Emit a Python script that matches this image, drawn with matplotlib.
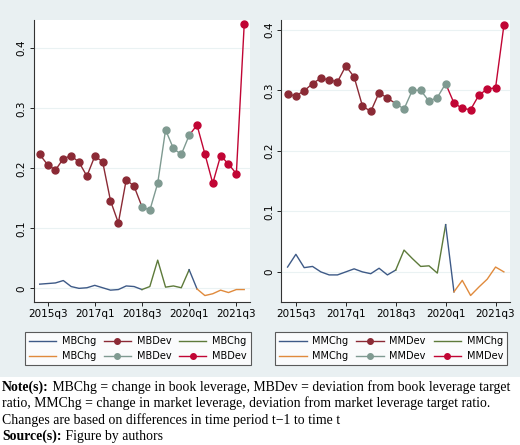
import matplotlib
matplotlib.use("Agg")
import matplotlib.pyplot as plt
from matplotlib.lines import Line2D

quarters = ["2015q2","2015q3","2015q4","2016q1","2016q2","2016q3","2016q4","2017q1","2017q2","2017q3",
            "2017q4","2018q1","2018q2","2018q3","2018q4","2019q1","2019q2","2019q3","2019q4","2020q1",
            "2020q2","2020q3","2020q4","2021q1","2021q2","2021q3","2021q4"]
tick_labels = ["2015q3","2017q1","2018q3","2020q1","2021q3"]

mb_dev = [0.223,0.206,0.197,0.216,0.221,0.210,0.187,0.220,0.211,0.146,0.109,0.181,0.170,
          0.136,0.130,0.175,0.264,0.233,0.223,0.255,
          0.272,0.224,0.175,0.221,0.207,0.191,0.440]
mb_chg = [0.007,0.008,0.009,0.013,0.003,0.000,0.001,0.005,0.001,-0.003,-0.002,0.004,0.003,
          -0.002,0.003,0.047,0.002,0.004,0.001,0.031,
          -0.001,-0.012,-0.009,-0.003,-0.007,-0.002,-0.002]
mm_dev = [0.293,0.291,0.299,0.311,0.320,0.317,0.314,0.340,0.322,0.274,0.265,0.296,0.287,
          0.278,0.269,0.300,0.300,0.282,0.288,0.311,
          0.279,0.270,0.268,0.292,0.302,0.304,0.407]
mm_chg = [0.008,0.029,0.007,0.009,0.000,-0.005,-0.005,0.000,0.005,0.000,-0.003,0.006,-0.005,
          0.003,0.036,0.022,0.009,0.010,-0.002,0.078,
          -0.033,-0.014,-0.039,-0.025,-0.012,0.008,0.000]

BLUE, MAROON, GREEN = "#3e5a87", "#8b2a35", "#5d7a3a"
ORANGE, GRAY, RED = "#e08a3c", "#7f9a91", "#c10534"
BG = "#e9f0f2"

fig = plt.figure(figsize=(5.2, 4.45), dpi=100)
bg = fig.add_axes([0, 68/445, 1, 1 - 68/445], zorder=-10)
bg.set_facecolor(BG)
bg.set_xticks([]); bg.set_yticks([])
for s in bg.spines.values():
    s.set_visible(False)

def panel(rect, dev, chg, ylim, name_chg, name_dev):
    ax = fig.add_axes(rect)
    ax.set_facecolor("white")
    x = list(range(len(quarters)))
    ax.plot(x[0:14], chg[0:14], color=BLUE, lw=1.0)
    ax.plot(x[13:20], chg[13:20], color=GREEN, lw=1.0)
    ax.plot(x[19:21], chg[19:21], color=BLUE, lw=1.0)
    ax.plot(x[20:27], chg[20:27], color=ORANGE, lw=1.0)
    ax.plot(x[0:14], dev[0:14], color=MAROON, lw=1.0)
    ax.plot(x[13:20], dev[13:20], color=GRAY, lw=1.0)
    ax.plot(x[19:27], dev[19:27], color=RED, lw=1.0)
    ax.plot(x[0:13], dev[0:13], ls="none", marker="o", ms=5, color=MAROON)
    ax.plot(x[13:20], dev[13:20], ls="none", marker="o", ms=5, color=GRAY)
    ax.plot(x[20:27], dev[20:27], ls="none", marker="o", ms=5, color=RED)
    ax.set_xlim(-0.75, 26.75)
    ax.set_ylim(*ylim)
    ax.set_xticks([quarters.index(t) for t in tick_labels])
    ax.set_xticklabels(tick_labels, fontsize=7.5)
    ax.set_yticks([0, 0.1, 0.2, 0.3, 0.4])
    ax.set_yticklabels(["0", "0.1", "0.2", "0.3", "0.4"], fontsize=7.5, rotation=90, va="center")
    ax.yaxis.grid(True, color="#eaf2f3", lw=0.8)
    ax.set_axisbelow(True)
    for s in ["top", "right"]:
        ax.spines[s].set_visible(False)
    for s in ["left", "bottom"]:
        ax.spines[s].set_color("#333333")
        ax.spines[s].set_linewidth(0.8)
    ax.tick_params(length=3, width=0.6, pad=2)
    h = [Line2D([], [], color=BLUE, lw=1), Line2D([], [], color=ORANGE, lw=1),
         Line2D([], [], color=MAROON, lw=1, marker="o", ms=4),
         Line2D([], [], color=GRAY, lw=1, marker="o", ms=4),
         Line2D([], [], color=GREEN, lw=1),
         Line2D([], [], color=RED, lw=1, marker="o", ms=4)]
    labels = [name_chg, name_chg, name_dev, name_dev, name_chg, name_dev]
    leg = ax.legend(h, labels, ncol=3, loc="upper center",
                    bbox_to_anchor=(0.48, -0.09), fontsize=7, frameon=True, fancybox=False,
                    edgecolor="#333333", handlelength=2.8, columnspacing=0.8,
                    handletextpad=0.6, borderpad=0.4, labelspacing=0.5)
    leg.get_frame().set_linewidth(0.8)
    return ax

panel([0.065, 0.321, 0.416, 0.634], mb_dev, mb_chg, (-0.023, 0.447), "MBChg", "MBDev")
panel([0.541, 0.321, 0.440, 0.634], mm_dev, mm_chg, (-0.05, 0.416), "MMChg", "MMDev")

serif = "Liberation Serif"
FS = 9.9
lines = [
    [("Note(s):", "bold"), (" MBChg = change in book leverage, MBDev = deviation from book leverage target", "normal")],
    [("ratio, MMChg = change in market leverage, deviation from market leverage target ratio.", "normal")],
    [("Changes are based on differences in time period t\u22121 to time t", "normal")],
    [("Source(s):", "bold"), (" Figure by authors", "normal")],
]
y0 = 1 - 387/445
dy = 16.5/445
for i, parts in enumerate(lines):
    if len(parts) == 1:
        fig.text(0.004, y0 - i*dy, parts[0][0], fontsize=FS, family=serif, va="center")
    else:
        t = fig.text(0.004, y0 - i*dy, parts[0][0], fontsize=FS, family=serif,
                     weight="bold", va="center")
        fig.canvas.draw()
        bb = t.get_window_extent()
        fig.text(bb.x1/fig.bbox.width, y0 - i*dy, parts[1][0], fontsize=FS,
                 family=serif, va="center")

fig.savefig("out.png", dpi=100)
